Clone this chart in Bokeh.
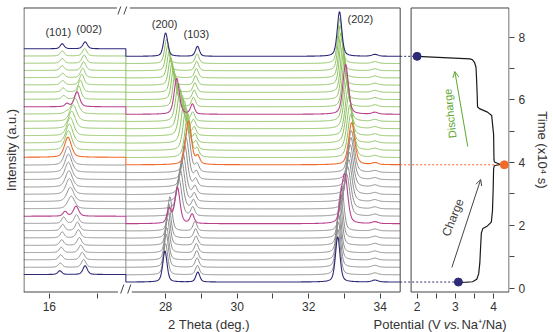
import numpy as np
from bokeh.plotting import figure
from bokeh.layouts import column
from bokeh.models import Range1d, FixedTicker, Label, Arrow, OpenHead, LinearAxis
from bokeh.core.properties import value
from bokeh.embed import file_html
from bokeh.resources import INLINE

# ---------------- data ----------------
# acquisition time of every XRD scan (x10^4 s), bottom to top
scan_time = [0.19, 0.42, 0.66, 0.89, 1.12, 1.36, 1.59, 1.82, 2.05, 2.29, 2.52,
             2.75, 2.98, 3.22, 3.45, 3.68, 3.93, 4.16, 4.39, 4.62, 4.85, 5.08,
             5.31, 5.54, 5.78, 6.01, 6.24, 6.47, 6.70, 6.93, 7.16, 7.39]
scan_kind = (["start"] + ["charge"] * 7 + ["mark"] + ["charge"] * 7 + ["top"]
             + ["discharge"] * 6 + ["mark"] + ["discharge"] * 7 + ["end"])

# low-angle region: (101) and (002)
pos_101 = [16.22, 16.23, 16.24, 16.25, 16.26, 16.27, 16.28, 16.30, 16.33, 16.36, 16.36,
           16.36, 16.36, 16.36, 16.36, 16.36, 16.36, 16.36, 16.36, 16.36, 16.36, 16.36,
           16.36, 16.37, 16.30, 16.29, 16.28, 16.28, 16.27, 16.27, 16.27, 16.27]
h_101 = [0.12, 0.14, 0.16, 0.17, 0.18, 0.19, 0.20, 0.20, 0.15, 0, 0, 0, 0, 0, 0, 0,
         0, 0, 0, 0, 0, 0, 0.06, 0.10, 0.12, 0.13, 0.14, 0.14, 0.15, 0.15, 0.16, 0.16]
pos_002 = [16.75, 16.72, 16.69, 16.66, 16.63, 16.61, 16.59, 16.57, 16.56, 16.46, 16.44,
           16.42, 16.41, 16.40, 16.40, 16.39, 16.39, 16.40, 16.42, 16.44, 16.47, 16.50,
           16.54, 16.58, 16.62, 16.65, 16.68, 16.70, 16.72, 16.73, 16.74, 16.75]
h_002 = [0.28, 0.25, 0.24, 0.24, 0.25, 0.26, 0.27, 0.28, 0.32, 0.40, 0.45, 0.50, 0.52,
         0.55, 0.58, 0.60, 0.64, 0.62, 0.60, 0.58, 0.55, 0.52, 0.50, 0.48, 0.42, 0.38,
         0.34, 0.30, 0.28, 0.26, 0.24, 0.22]
w_002 = [0.11] * 8 + [0.13] + [0.17] * 14 + [0.13] + [0.11] * 8

# high-angle region: (200), (103), (202)
pos_200 = [27.98, 28.00, 28.02, 28.03, 28.05, 28.07, 28.09, 28.12, 28.33, 28.37, 28.41,
           28.45, 28.49, 28.53, 28.57, 28.61, 28.64, 28.62, 28.57, 28.52, 28.46, 28.41,
           28.36, 28.31, 28.26, 28.22, 28.18, 28.14, 28.10, 28.06, 28.03, 28.00]
h_200 = [1.00, 1.00, 1.05, 1.05, 1.10, 1.10, 1.10, 1.10, 1.15, 1.20, 1.25, 1.30, 1.30,
         1.35, 1.35, 1.40, 1.40, 1.40, 1.35, 1.35, 1.30, 1.25, 1.20, 1.15, 1.05, 1.00,
         0.95, 0.90, 0.85, 0.80, 0.78, 0.75]
w_200 = [0.14] * 8 + [0.17] + [0.19] * 14 + [0.17] + [0.14] * 8
pos_103 = [28.90, 28.89, 28.88, 28.87, 28.86, 28.85, 28.84, 28.82, 28.74, 28.76, 28.78,
           28.80, 28.82, 28.84, 28.86, 28.88, 28.90, 28.88, 28.85, 28.82, 28.80, 28.78,
           28.76, 28.75, 28.78, 28.80, 28.82, 28.84, 28.86, 28.87, 28.88, 28.89]
h_103 = [0.32, 0.30, 0.30, 0.30, 0.30, 0.30, 0.30, 0.30, 0.30, 0.28, 0.28, 0.26, 0.26,
         0.25, 0.25, 0.25, 0.25, 0.25, 0.25, 0.26, 0.26, 0.27, 0.28, 0.32, 0.30, 0.30,
         0.30, 0.30, 0.30, 0.30, 0.31, 0.32]
pos_202 = [32.81, 32.82, 32.83, 32.84, 32.85, 32.87, 32.89, 32.92, 33.02, 33.06, 33.09,
           33.12, 33.14, 33.16, 33.18, 33.19, 33.20, 33.18, 33.15, 33.12, 33.10, 33.07,
           33.05, 33.03, 33.00, 32.97, 32.95, 32.92, 32.90, 32.88, 32.87, 32.86]
h_202 = [1.45, 1.45, 1.45, 1.45, 1.45, 1.45, 1.45, 1.45, 1.40, 1.35, 1.35, 1.35, 1.35,
         1.35, 1.35, 1.35, 1.35, 1.40, 1.45, 1.50, 1.50, 1.55, 1.55, 1.60, 1.55, 1.50,
         1.50, 1.50, 1.45, 1.45, 1.45, 1.43]
w_202 = [0.15] * 8 + [0.18] + [0.20] * 14 + [0.18] + [0.15] * 8
small_peak_pos = [33.85]
small_peak_h = [0.06]
# residual old-phase peaks in the two-phase scan
two_phase_scan = [8]
old_200_pos, old_200_h = [28.10], [0.45]
old_202_pos, old_202_h = [32.92], [0.55]
left_offset = 0.24   # background step of the low-angle window

# potential profile (V vs Na+/Na) against time (x10^4 s)
pot_v = [3.07, 3.30, 3.45, 3.56, 3.61, 3.64, 3.66, 3.68, 3.72, 3.84, 3.94, 3.97, 3.99,
         4.00, 4.02, 4.18, 4.02, 4.01, 4.00, 3.95, 3.84, 3.63, 3.58, 3.57, 3.55, 3.54,
         3.50, 3.45, 3.38, 2.00]
pot_t = [0.18, 0.19, 0.20, 0.28, 0.45, 0.80, 1.30, 1.75, 1.90, 1.98, 2.10, 2.45, 3.20,
         3.80, 3.90, 3.94, 4.02, 4.10, 4.90, 5.50, 5.61, 5.72, 5.78, 6.20, 6.80, 7.04,
         7.20, 7.28, 7.31, 7.39]
marker_v = [3.08, 4.28, 2.00]
marker_scan = [0, 16, 31]

tth_major = [16, 28, 30, 32, 34]
tth_minor = [17, 29, 31, 33]
pot_major = [2, 3, 4]
pot_minor = [2.5, 3.5]
time_major = [0, 2, 4, 6, 8]
time_minor = [1, 3, 5, 7]

# ---------------- styling ----------------
C_BLUE = "#2e2a78"
C_MAG = "#b8408e"
C_ORANGE = "#f06a2a"
C_GRAY = "#8e8e8e"
C_GREEN = "#8fc262"
C_FRAME = "#444444"
C_TEXT = "#333333"
FONT = "Liberation Sans"
kind_color = {"start": C_BLUE, "end": C_BLUE, "mark": C_MAG, "top": C_ORANGE,
              "charge": C_GRAY, "discharge": C_GREEN}


# broken 2-theta scale + potential scale share one horizontal axis
def x_tth(t):
    t = np.asarray(t, float)
    return np.where(t < 22, 26 + (t - 16) * 48, 143 + (t - 28) * 36)


def x_pot(v):
    return 396 + (np.asarray(v, float) - 2) * 38.5


def pv(x, x0, h, w, eta=0.45):
    d = (x - x0) / w
    return h * (eta / (1 + 4 * d * d) + (1 - eta) * np.exp(-4 * np.log(2) * d * d))


def ty(py):
    return (287.5 - py) / 31.35


g_left = np.linspace(15.46, 17.604, 230)
g_right = np.linspace(26.889, 34.556, 420)

Y0, Y1 = -0.1754, 8.979
p = figure(width=553, height=317, output_backend="svg", toolbar_location=None,
           x_range=Range1d(0, 489), y_range=Range1d(Y0, Y1),
           y_axis_location="right", min_border_left=23, min_border_right=41,
           min_border_top=6, min_border_bottom=24)
p.outline_line_color = None
p.grid.visible = False
p.background_fill_color = "white"

traces = []
for i, t in enumerate(scan_time):
    yl = (t + left_offset + pv(g_left, pos_101[i], h_101[i], 0.10)
          + pv(g_left, pos_002[i], h_002[i], w_002[i]))
    yr = (t + pv(g_right, pos_200[i], h_200[i], w_200[i])
          + pv(g_right, pos_103[i], h_103[i], 0.13)
          + pv(g_right, pos_202[i], h_202[i], w_202[i]))
    for sp, sh in zip(small_peak_pos, small_peak_h):
        yr = yr + pv(g_right, sp, sh, 0.2)
    if i in two_phase_scan:
        k = two_phase_scan.index(i)
        yr = yr + pv(g_right, old_200_pos[k], old_200_h[k], 0.14)
        yr = yr + pv(g_right, old_202_pos[k], old_202_h[k], 0.15)
    xs = np.concatenate([x_tth(g_left), x_tth(g_right)])
    ys = np.concatenate([yl, yr])
    traces.append((scan_kind[i], xs, ys))

for kind, xs, ys in traces:
    if kind in ("charge", "discharge"):
        p.line(xs, ys, line_color=kind_color[kind], line_width=1)
for kind, xs, ys in traces:
    if kind not in ("charge", "discharge"):
        p.line(xs, ys, line_color=kind_color[kind], line_width=1.1)

# frames of the two panels
yt = ty(7.5)
yb = ty(291.5)
XL_END = 379
XR0, XR1 = 390, 488.5
p.segment(x0=[0, 107, 0, 109, 0.5, XL_END, XR0, XR0, XR0, XR1],
          y0=[yt, yt, yb, yb, yb, yb, yt, yb, yb, yb],
          x1=[94, XL_END, 95, XL_END, 0.5, XL_END, XR1, XR1, XR0, XR1],
          y1=[yt, yt, yb, yb, yt, yt, yt, yb, yt, yt],
          line_color=C_FRAME, line_width=1)

# axis-break marks
for (xa_, ya_, xb_, yb_) in [(118, 14, 123, 0), (124, 14, 129, 0),
                             (119, 298, 124, 284), (126, 298, 131, 284)]:
    p.add_layout(Arrow(end=None, x_start=xa_ - 23, y_start=ty(ya_), x_end=xb_ - 23,
                       y_end=ty(yb_), line_color=C_FRAME, line_width=1))

# potential curve
p.line(x_pot(pot_v), pot_t, line_color="#1a1a1a", line_width=1.2)

# dashed guides and markers
for v, s in zip(marker_v, marker_scan):
    col = C_ORANGE if scan_kind[s] == "top" else C_BLUE
    p.line([XL_END, float(x_pot(v))], [scan_time[s], scan_time[s]],
           line_color=col, line_dash="2 2", line_width=1)
    p.scatter([float(x_pot(v))], [scan_time[s]], size=8, fill_color=col,
              line_color=col)

# axes
xa = p.xaxis[0]
maj = [round(float(v), 3) for v in x_tth(tth_major)] + [round(float(v), 3) for v in x_pot(pot_major)]
mnr = [round(float(v), 3) for v in x_tth(tth_minor)] + [round(float(v), 3) for v in x_pot(pot_minor)]
xa.ticker = FixedTicker(ticks=maj, minor_ticks=mnr)
labels = [str(v) for v in tth_major] + [str(v) for v in pot_major]
xa.major_label_overrides = {k: lab for k, lab in zip(maj, labels)}
ya = p.yaxis[0]
ya.ticker = FixedTicker(ticks=time_major, minor_ticks=time_minor)
for ax in (xa, ya):
    ax.axis_line_color = None
    ax.major_tick_in = 0
    ax.minor_tick_in = 0
    ax.major_tick_out = 5
    ax.minor_tick_out = 5
    ax.major_tick_line_color = C_FRAME
    ax.minor_tick_line_color = C_FRAME
    ax.major_label_text_font = FONT
    ax.major_label_text_font_size = "12px"
    ax.major_label_text_color = C_TEXT
xa.major_label_standoff = 3
ya.major_label_standoff = 4
ya.axis_label = "Time (x10\u2074 s)"
ya.axis_label_standoff = 7

left_ax = LinearAxis(ticker=FixedTicker(ticks=[]), axis_label="Intensity (a.u.)",
                     axis_line_color=None, major_tick_out=0, minor_tick_out=0,
                     major_tick_in=0, minor_tick_in=0, major_label_standoff=0,
                     axis_label_standoff=5)
p.add_layout(left_ax, "left")
for ax in (ya, left_ax):
    ax.axis_label_text_font = FONT
    ax.axis_label_text_font_size = "13px"
    ax.axis_label_text_font_style = "normal"
    ax.axis_label_text_color = C_TEXT


def lab(x, y, text, size="11px", angle=0, color=C_TEXT):
    p.add_layout(Label(x=x, y=y, text=text, text_font=FONT, text_font_size=size,
                       angle=angle, text_color=color, text_align="center",
                       text_baseline="middle"))


lab(35, ty(32), "(101)")
lab(66, ty(29), "(002)")
lab(142, ty(24), "(200)")
lab(174, ty(34), "(103)")
lab(339, ty(19), "(202)")

lab(429, ty(113), "Discharge", angle=1.676, color="#5da62e")
lab(432, ty(217), "Charge", size="12px", angle=1.19, color="#444444")
p.add_layout(Arrow(end=OpenHead(size=6, line_color="#5da62e", line_width=1),
                   x_start=447, y_start=ty(146), x_end=434, y_end=ty(71),
                   line_color="#5da62e", line_width=1))
p.add_layout(Arrow(end=OpenHead(size=6, line_color="#444444", line_width=1),
                   x_start=431, y_start=ty(267), x_end=460, y_end=ty(179),
                   line_color="#444444", line_width=1))

# strip below holding the two horizontal axis titles
q = figure(width=553, height=15, output_backend="svg", toolbar_location=None,
           x_range=Range1d(0, 553), y_range=Range1d(0, 15),
           x_axis_location=None, y_axis_location=None, min_border=0)
q.outline_line_color = None
q.grid.visible = False
title_parts = ["2 Theta (deg.)", "Potential (V", "vs.", "Na\u207a/Na)"]
title_x = [211, 436.5, 487.5, 524.0]
title_style = ["normal", "normal", "italic", "normal"]
for txt, x, st in zip(title_parts, title_x, title_style):
    q.text(x=[x], y=[8.5], text=[txt], text_font=value(FONT),
           text_font_size=value("13px"), text_align="center", text_baseline="middle",
           text_font_style=value(st), text_color=C_TEXT)

open("out.html", "w").write(file_html(column(p, q, spacing=0), INLINE))
